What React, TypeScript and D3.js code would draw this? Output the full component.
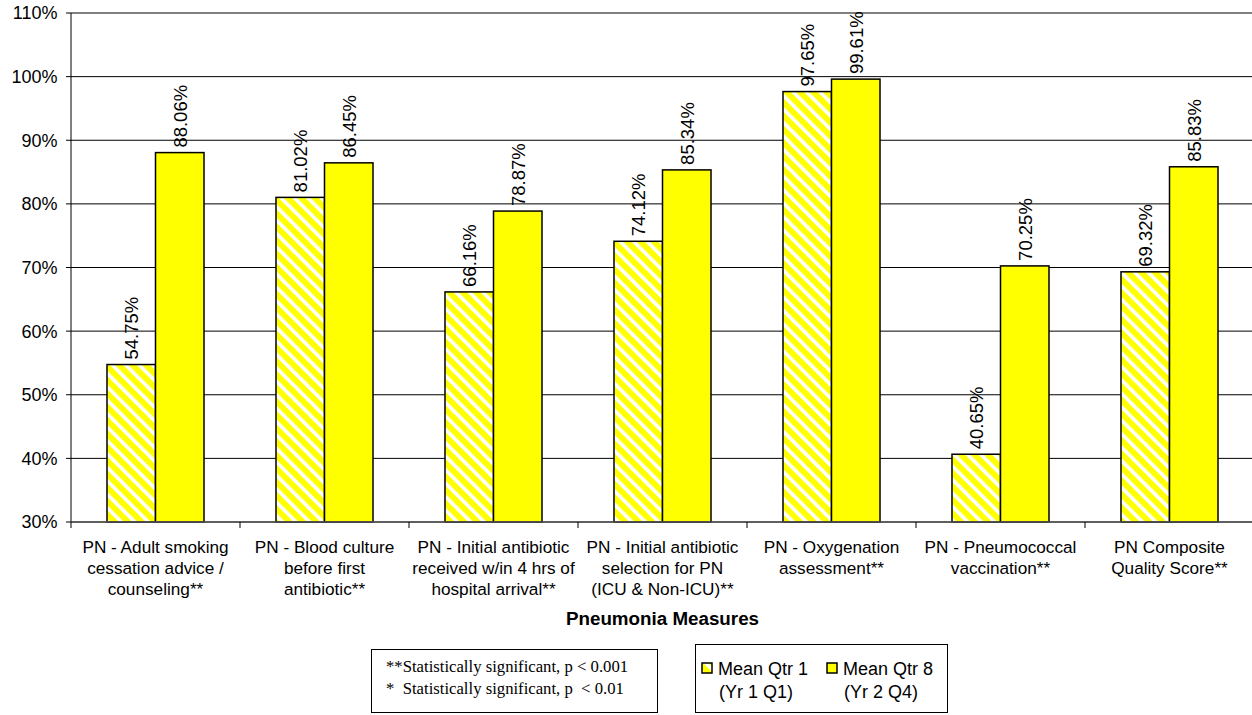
import React from "react";
import * as d3 from "d3";

// Pneumonia quality measures, mean score in quarter 1 vs quarter 8
const categories: string[][] = [
  ["PN - Adult smoking", "cessation advice /", "counseling**"],
  ["PN - Blood culture", "before first", "antibiotic**"],
  ["PN - Initial antibiotic", "received w/in 4 hrs of", "hospital arrival**"],
  ["PN - Initial antibiotic", "selection for PN", "(ICU & Non-ICU)**"],
  ["PN - Oxygenation", "assessment**"],
  ["PN - Pneumococcal", "vaccination**"],
  ["PN Composite", "Quality Score**"],
];
const qtr1Values = [54.75, 81.02, 66.16, 74.12, 97.65, 40.65, 69.32];
const qtr8Values = [88.06, 86.45, 78.87, 85.34, 99.61, 70.25, 85.83];
const seriesKeys = ["qtr1", "qtr8"];
const yTicks = [30, 40, 50, 60, 70, 80, 90, 100, 110];
const xAxisTitle = "Pneumonia Measures";
const noteLines = [
  "**Statistically significant, p < 0.001",
  "*  Statistically significant, p  < 0.01",
];
const legendItems = [
  { key: "qtr1", lines: ["Mean Qtr 1", "(Yr 1 Q1)"] },
  { key: "qtr8", lines: ["Mean Qtr 8", "(Yr 2 Q4)"] },
];

const W = 1252;
const H = 715;
const sans = "'Liberation Sans', Arial, sans-serif";
const serif = "'Liberation Serif', 'Times New Roman', serif";
const YELLOW = "#FFFF00";

export default function App() {
  const left = 71;
  const right = 1254;
  const top = 13;
  const bottom = 522;

  const y = d3.scaleLinear().domain([30, 110]).range([bottom, top]);
  const ids = categories.map((_, i) => String(i));
  const x0 = d3.scaleBand<string>().domain(ids).range([left, right]).padding(0);
  const x1 = d3
    .scaleBand<string>()
    .domain(seriesKeys)
    .range([0, x0.bandwidth()])
    .paddingInner(0)
    .paddingOuter(0.742);

  const fillFor = (k: string) => (k === "qtr1" ? "url(#hatch)" : YELLOW);
  const valuesFor = (k: string) => (k === "qtr1" ? qtr1Values : qtr8Values);

  return (
    <svg
      width={W}
      height={H}
      style={{ position: "absolute", left: 0, top: 0, background: "#fff" }}
    >
      <defs>
        <pattern
          id="hatch"
          patternUnits="userSpaceOnUse"
          width={9.5}
          height={9.5}
          patternTransform="rotate(-45)"
        >
          <rect width={9.5} height={9.5} fill={YELLOW} />
          <rect width={3.6} height={9.5} fill="#fff" />
        </pattern>
      </defs>

      {/* gridlines */}
      {yTicks.map((t) => (
        <line
          key={t}
          x1={left - 5}
          x2={right}
          y1={y(t)}
          y2={y(t)}
          stroke="#000"
          strokeWidth={1}
        />
      ))}

      {/* y tick labels */}
      {yTicks.map((t) => (
        <text
          key={t}
          x={57.5}
          y={y(t)}
          dy="0.36em"
          textAnchor="end"
          fontFamily={sans}
          fontSize={18}
          fill="#000"
        >
          {t}%
        </text>
      ))}

      {/* bars */}
      {ids.map((id, i) =>
        seriesKeys.map((k) => {
          const v = valuesFor(k)[i];
          const bx = (x0(id) as number) + (x1(k) as number);
          const bw = x1.bandwidth();
          return (
            <g key={id + k}>
              <rect
                x={bx}
                y={y(v)}
                width={bw}
                height={bottom - y(v)}
                fill={fillFor(k)}
                stroke="#000"
                strokeWidth={1.5}
              />
              <text
                transform={`translate(${bx + bw / 2 + 7},${y(v) - 5}) rotate(-90)`}
                fontFamily={sans}
                fontSize={18.5}
                fill="#000"
              >
                {v.toFixed(2)}%
              </text>
            </g>
          );
        })
      )}

      {/* axes */}
      <line x1={left} x2={left} y1={top} y2={bottom} stroke="#000" strokeWidth={1} />
      <line x1={left} x2={right} y1={bottom} y2={bottom} stroke="#555" strokeWidth={1.5} />
      {ids.concat([String(ids.length)]).map((id, i) => {
        const xx = left + i * x0.bandwidth();
        return (
          <line key={"xt" + id} x1={xx} x2={xx} y1={bottom} y2={bottom + 6} stroke="#000" />
        );
      })}

      {/* category labels */}
      {categories.map((lines, i) => {
        const cx = (x0(String(i)) as number) + x0.bandwidth() / 2;
        return (
          <text
            key={"c" + i}
            x={cx}
            y={553}
            textAnchor="middle"
            fontFamily={sans}
            fontSize={17.2}
            fill="#000"
          >
            {lines.map((l, j) => (
              <tspan key={j} x={cx} y={553 + j * 20.8}>
                {l}
              </tspan>
            ))}
          </text>
        );
      })}

      {/* x axis title */}
      <text
        x={(left + right) / 2}
        y={625}
        textAnchor="middle"
        fontFamily={sans}
        fontSize={18.8}
        fontWeight="bold"
        fill="#000"
      >
        {xAxisTitle}
      </text>

      {/* significance note */}
      <rect x={371.5} y={649.5} width={286} height={63} fill="#fff" stroke="#000" strokeWidth={1} />
      {noteLines.map((l, j) => (
        <text
          key={"n" + j}
          x={386}
          y={672 + j * 21.5}
          fontFamily={serif}
          fontSize={16.7}
          fill="#000"
          style={{ whiteSpace: "pre" }}
        >
          {l}
        </text>
      ))}

      {/* legend */}
      <rect x={695.5} y={644.5} width={252} height={68} fill="#fff" stroke="#000" strokeWidth={1} />
      {legendItems.map((it, j) => {
        const sx = j === 0 ? 702 : 827;
        const tx = j === 0 ? 718 : 843;
        return (
          <g key={it.key}>
            <rect
              x={sx}
              y={663}
              width={10}
              height={10}
              fill={fillFor(it.key)}
              stroke="#000"
              strokeWidth={1.5}
            />
            <text x={tx} y={675} fontFamily={sans} fontSize={18} fill="#000">
              {it.lines[0]}
            </text>
            <text x={tx + 1} y={698} fontFamily={sans} fontSize={18} fill="#000">
              {it.lines[1]}
            </text>
          </g>
        );
      })}
    </svg>
  );
}
